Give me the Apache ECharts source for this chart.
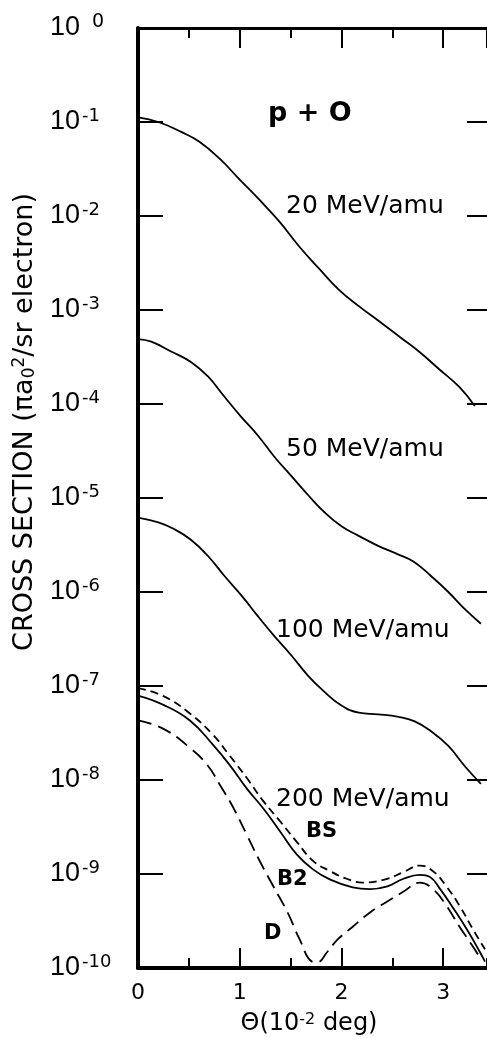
<!DOCTYPE html>
<html><head><meta charset="utf-8">
<script src="https://cdn.jsdelivr.net/npm/echarts@6/dist/echarts.min.js"></script>
<style>html,body{margin:0;padding:0;background:#fff;}#c{width:487px;height:1038px;}</style>
</head><body><div id="c"></div>
<script>
// ---- data (theta in 10^-2 deg, cross section in pi a0^2 / sr electron) ----
const yExponents = [0,-1,-2,-3,-4,-5,-6,-7,-8,-9,-10];
const xTickLabels = ['0','1','2','3'];

const theta20 = [0,0.20,0.43,0.60,0.80,0.99,1.19,1.39,1.58,1.78,1.97,2.17,2.37,2.57,2.77,2.96,3.16,3.31];
const cs20    = [1.12e-1,1.0e-1,7.8e-2,6.2e-2,4.1e-2,2.5e-2,1.5e-2,8.7e-3,4.8e-3,2.75e-3,1.66e-3,1.10e-3,7.6e-4,5.2e-4,3.55e-4,2.34e-4,1.51e-4,9.5e-5];

const theta50 = [0,0.13,0.33,0.52,0.69,0.84,1.01,1.18,1.34,1.51,1.68,1.83,2.00,2.16,2.36,2.56,2.71,2.88,3.05,3.21,3.37];
const cs50    = [4.9e-4,4.6e-4,3.6e-4,2.8e-4,1.95e-4,1.23e-4,7.4e-5,4.6e-5,2.75e-5,1.70e-5,1.05e-5,7.1e-6,5.0e-6,4.0e-6,3.1e-6,2.5e-6,2.1e-6,1.48e-6,1.0e-6,6.6e-7,4.6e-7];

const theta100 = [0,0.20,0.35,0.52,0.69,0.85,1.02,1.18,1.34,1.51,1.67,1.83,2.00,2.17,2.36,2.56,2.72,2.88,3.05,3.21,3.37];
const cs100    = [6.2e-6,5.5e-6,4.7e-6,3.6e-6,2.4e-6,1.48e-6,9.1e-7,5.5e-7,3.4e-7,2.1e-7,1.29e-7,8.7e-8,6.2e-8,5.2e-8,5.0e-8,4.7e-8,4.2e-8,3.3e-8,2.3e-8,1.41e-8,9.1e-9];

const theta200B2 = [0,0.25,0.51,0.74,0.90,1.07,1.23,1.40,1.56,1.72,1.89,2.11,2.28,2.45,2.61,2.77,2.87,2.97,3.10,3.23,3.36,3.41];
const cs200B2    = [7.9e-8,6.3e-8,4.3e-8,2.35e-8,1.45e-8,8.1e-9,5.0e-9,2.8e-9,1.62e-9,1.12e-9,8.7e-10,7.2e-10,6.9e-10,7.4e-10,8.9e-10,9.8e-10,9.3e-10,6.9e-10,4.3e-10,2.6e-10,1.48e-10,1.17e-10];

const theta200BS = [0,0.25,0.51,0.74,0.90,1.07,1.23,1.40,1.56,1.72,1.89,2.05,2.21,2.45,2.61,2.77,2.90,3.03,3.16,3.29,3.41];
const cs200BS    = [9.5e-8,7.8e-8,5.1e-8,3.0e-8,1.82e-8,1.05e-8,6.0e-9,3.6e-9,2.2e-9,1.38e-9,1.07e-9,8.9e-10,8.1e-10,8.9e-10,1.05e-9,1.23e-9,1.07e-9,7.4e-10,4.6e-10,2.6e-10,1.58e-10];

const theta200D = [0,0.25,0.51,0.68,0.81,0.94,1.07,1.20,1.33,1.47,1.59,1.71,1.76,1.86,1.96,2.11,2.28,2.45,2.61,2.77,2.90,3.03,3.16,3.29,3.36];
const cs200D    = [4.3e-8,3.5e-8,2.2e-8,1.45e-8,8.7e-9,5.0e-9,2.6e-9,1.35e-9,7.4e-10,3.9e-10,2.0e-10,1.17e-10,1.15e-10,1.48e-10,2.0e-10,2.75e-10,3.9e-10,5.1e-10,6.5e-10,8.1e-10,6.9e-10,4.6e-10,2.75e-10,1.7e-10,1.29e-10];

// ---- chart ----
const FONT = 'DejaVu Sans';
const chart = echarts.init(document.getElementById('c'), null, {renderer: 'canvas'});
const zip = (xs, ys) => xs.map((x, i) => [x, ys[i]]);
const line = (name, xs, ys, dash) => ({
  name, type: 'line', data: zip(xs, ys), xAxisIndex: 0, yAxisIndex: 0,
  showSymbol: false, symbol: 'none', smooth: 0.45,
  silent: true, animation: false, z: 5,
  lineStyle: {color: '#000', width: 1.8, type: dash || 'solid'}
});

const xBase = {type: 'value', min: 0, max: 3.43, gridIndex: 0, splitLine: {show: false}};
const yBase = {type: 'log', logBase: 10, min: 1e-10, max: 1, interval: 1, splitLine: {show: false}, minorTick: {show: false}};
const intLabel = v => { const i = Math.round(v); return Math.abs(v - i) < 1e-6 && i >= 0 && i < xTickLabels.length ? xTickLabels[i] : ''; };

chart.setOption({
  animation: false,
  backgroundColor: '#fff',
  grid: {left: 138, top: 28, width: 349, height: 940, containLabel: false},
  xAxis: [
    {...xBase, position: 'bottom', interval: 1,
      axisLine: {show: true, onZero: false, lineStyle: {color: '#000', width: 4}},
      axisTick: {show: true, inside: true, length: 20, lineStyle: {color: '#000', width: 2}},
      axisLabel: {show: true, margin: 14, color: '#000', fontFamily: FONT, fontSize: 22,
        showMaxLabel: false, formatter: intLabel}},
    {...xBase, position: 'bottom', interval: 0.5,
      axisLine: {show: false, onZero: false},
      axisTick: {show: true, inside: true, length: 10, lineStyle: {color: '#000', width: 2}},
      axisLabel: {show: false}},
    {...xBase, position: 'top', interval: 1,
      axisLine: {show: true, onZero: false, lineStyle: {color: '#000', width: 3}},
      axisTick: {show: true, inside: true, length: 20, lineStyle: {color: '#000', width: 2}},
      axisLabel: {show: false}},
    {...xBase, position: 'top', interval: 0.5,
      axisLine: {show: false, onZero: false},
      axisTick: {show: true, inside: true, length: 10, lineStyle: {color: '#000', width: 2}},
      axisLabel: {show: false}}
  ],
  yAxis: [
    {...yBase, position: 'left',
      axisLine: {show: true, onZero: false, lineStyle: {color: '#000', width: 4}},
      axisTick: {show: true, inside: true, length: 25, lineStyle: {color: '#000', width: 2}},
      axisLabel: {show: true, margin: 88, align: 'left', color: '#000',
        formatter: v => {
          const e = Math.round(Math.log10(v));
          if (yExponents.indexOf(e) < 0) return '';
          return e === 0 ? '{b|10}{z|' + e + '}' : '{b|10}{s|' + e + '}';
        },
        rich: {
          b: {fontFamily: 'Liberation Sans', fontSize: 27, lineHeight: 30, color: '#000'},
          s: {fontFamily: FONT, fontSize: 18, lineHeight: 18, verticalAlign: 'top', padding: [0, 0, 0, 2], color: '#000'},
          z: {fontFamily: FONT, fontSize: 19, lineHeight: 16, verticalAlign: 'top', padding: [0, 0, 0, 12], color: '#000'}
        }}},
    {...yBase, position: 'right',
      axisLine: {show: false, onZero: false},
      axisTick: {show: true, inside: true, length: 20, lineStyle: {color: '#000', width: 2}},
      axisLabel: {show: false}}
  ],
  series: [
    line('20 MeV/amu', theta20, cs20),
    line('50 MeV/amu', theta50, cs50),
    line('100 MeV/amu', theta100, cs100),
    line('200 MeV/amu B2', theta200B2, cs200B2),
    line('200 MeV/amu BS', theta200BS, cs200BS, [8, 5]),
    line('200 MeV/amu D', theta200D, cs200D, [14, 7])
  ],
  graphic: [
    {type: 'text', x: 268, y: 114, style: {text: 'p + O', fontFamily: FONT, fontWeight: 'bold', fontSize: 27, fill: '#000', textVerticalAlign: 'middle'}},
    {type: 'text', x: 286, y: 206, style: {text: '20 MeV/amu', fontFamily: FONT, fontSize: 25, fill: '#000', textVerticalAlign: 'middle'}},
    {type: 'text', x: 286, y: 449, style: {text: '50 MeV/amu', fontFamily: FONT, fontSize: 25, fill: '#000', textVerticalAlign: 'middle'}},
    {type: 'text', x: 276, y: 630, style: {text: '100 MeV/amu', fontFamily: FONT, fontSize: 25, fill: '#000', textVerticalAlign: 'middle'}},
    {type: 'text', x: 276, y: 799, style: {text: '200 MeV/amu', fontFamily: FONT, fontSize: 25, fill: '#000', textVerticalAlign: 'middle'}},
    {type: 'text', x: 306, y: 832, style: {text: 'BS', fontFamily: FONT, fontWeight: 'bold', fontSize: 21, fill: '#000', textVerticalAlign: 'middle'}},
    {type: 'text', x: 277, y: 880, style: {text: 'B2', fontFamily: FONT, fontWeight: 'bold', fontSize: 21, fill: '#000', textVerticalAlign: 'middle'}},
    {type: 'text', x: 264, y: 934, style: {text: 'D', fontFamily: FONT, fontWeight: 'bold', fontSize: 21, fill: '#000', textVerticalAlign: 'middle'}},
    {type: 'text', x: 309, y: 1024, style: {
      text: 'Θ(10{s|-2} deg)', textAlign: 'center', textVerticalAlign: 'middle',
      fontFamily: FONT, fontSize: 24, fill: '#000',
      rich: {s: {fontFamily: FONT, fontSize: 16, lineHeight: 14, verticalAlign: 'top', fill: '#000'}}}},
    {type: 'text', x: 25, y: 422, rotation: Math.PI / 2, style: {
      text: 'CROSS SECTION (πa{sb|0}{sp|2}/sr electron)', textAlign: 'center', textVerticalAlign: 'middle',
      fontFamily: FONT, fontSize: 27, fill: '#000',
      rich: {
        sb: {fontFamily: FONT, fontSize: 17, lineHeight: 12, verticalAlign: 'bottom', fill: '#000'},
        sp: {fontFamily: FONT, fontSize: 17, lineHeight: 12, verticalAlign: 'top', fill: '#000'}
      }}}
  ]
});
</script>
</body></html>
